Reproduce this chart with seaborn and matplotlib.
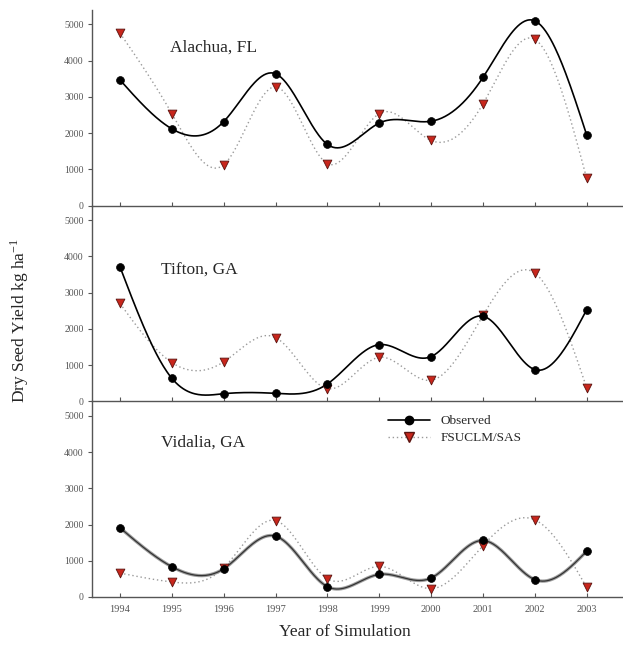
import numpy as np
import pandas as pd
import matplotlib
matplotlib.use("Agg")
import matplotlib.pyplot as plt
import seaborn as sns
from matplotlib.lines import Line2D

years = [1994, 1995, 1996, 1997, 1998, 1999, 2000, 2001, 2002, 2003]
sites = ["Alachua, FL", "Tifton, GA", "Vidalia, GA"]
alachua_obs = [3470, 2120, 2320, 3640, 1690, 2280, 2330, 3540, 5100, 1950]
alachua_sim = [4760, 2540, 1130, 3280, 1160, 2540, 1800, 2810, 4590, 750]
tifton_obs = [3710, 635, 210, 220, 480, 1565, 1235, 2350, 875, 2530]
tifton_sim = [2700, 1070, 1090, 1760, 350, 1215, 580, 2370, 3540, 370]
vidalia_obs = [1910, 835, 780, 1680, 285, 625, 525, 1560, 480, 1265]
vidalia_sim = [660, 415, 805, 2110, 505, 845, 230, 1420, 2130, 265]
yticks = [0, 1000, 2000, 3000, 4000, 5000]

obs_all = [alachua_obs, tifton_obs, vidalia_obs]
sim_all = [alachua_sim, tifton_sim, vidalia_sim]


def natural_spline(x, y, n=400):
    x = np.asarray(x, float)
    y = np.asarray(y, float)
    m = len(x)
    h = np.diff(x)
    A = np.zeros((m, m))
    b = np.zeros(m)
    A[0, 0] = 1
    A[-1, -1] = 1
    for i in range(1, m - 1):
        A[i, i - 1] = h[i - 1]
        A[i, i] = 2 * (h[i - 1] + h[i])
        A[i, i + 1] = h[i]
        b[i] = 3 * ((y[i + 1] - y[i]) / h[i] - (y[i] - y[i - 1]) / h[i - 1])
    c = np.linalg.solve(A, b)
    xs = np.linspace(x[0], x[-1], n)
    ys = np.empty_like(xs)
    for k, xv in enumerate(xs):
        i = min(np.searchsorted(x, xv, side="right") - 1, m - 2)
        dx = xv - x[i]
        bi = (y[i + 1] - y[i]) / h[i] - h[i] * (2 * c[i] + c[i + 1]) / 3
        di = (c[i + 1] - c[i]) / (3 * h[i])
        ys[k] = y[i] + bi * dx + c[i] * dx ** 2 + di * dx ** 3
    return xs, ys


sns.set_style("ticks")
plt.rcParams["font.family"] = ["Liberation Serif", "DejaVu Serif"]
plt.rcParams["mathtext.fontset"] = "stix"

fig = plt.figure(figsize=(6.23, 6.46), dpi=100)
left, right = 92 / 623, 1.0
bottom_px, top_px = 597, 10
ph = (bottom_px - top_px) / 3
axes = []
for i in range(3):
    top = top_px + i * ph
    ax = fig.add_axes([left, (646 - top - ph) / 646, right - left, ph / 646])
    ax.set_facecolor("none")
    axes.append(ax)

spine_col = "#555555"
red = "#c8261c"
for i, ax in enumerate(axes):
    obs = obs_all[i]
    sim = sim_all[i]
    xs, ys_sim = natural_spline(years, sim)
    sns.lineplot(x=xs, y=ys_sim, ax=ax, color="#9a9a9a", lw=1.0,
                 linestyle=(0, (1, 2)), zorder=2)
    xs, ys_obs = natural_spline(years, obs)
    if i == 2:
        sns.lineplot(x=xs, y=ys_obs, ax=ax, color="#a0a0a0", lw=2.4, zorder=3)
        sns.lineplot(x=xs, y=ys_obs, ax=ax, color="#333333", lw=0.9, zorder=3)
    else:
        sns.lineplot(x=xs, y=ys_obs, ax=ax, color="black", lw=1.2, zorder=3)
    sns.scatterplot(x=years, y=sim, ax=ax, marker="v", s=40, color=red,
                    edgecolor="#5a1410", linewidth=0.6, zorder=4)
    sns.scatterplot(x=years, y=obs, ax=ax, marker="o", s=32, color="black",
                    edgecolor="black", linewidth=0.5, zorder=5)

    ax.set_xlim(1993.46, 2003.7)
    ax.set_ylim(0, 5400)
    ax.set_yticks(yticks)
    ax.set_yticklabels([str(v) for v in yticks], fontsize=7, color="#555555")
    ax.set_xticks(years)
    ax.tick_params(axis="x", direction="in", length=3, width=0.8, color=spine_col)
    ax.tick_params(axis="y", direction="out", length=3, width=0.8, color=spine_col, pad=3)
    if i < 2:
        ax.set_xticklabels([])
    else:
        ax.set_xticklabels([str(y) for y in years], fontsize=7.5, color="#555555")
        ax.tick_params(axis="x", pad=6)
    for s in ["top", "right"]:
        ax.spines[s].set_visible(False)
    for s in ["left", "bottom"]:
        ax.spines[s].set_color(spine_col)
        ax.spines[s].set_linewidth(1.0)
        ax.spines[s].set_zorder(6)
    ax.set_xlabel("")
    ax.set_ylabel("")

axes[0].text(1994.97, 4350, sites[0], fontsize=12.5, va="center", ha="left")
axes[1].text(1994.8, 3620, sites[1], fontsize=12.5, va="center", ha="left")
axes[2].text(1994.8, 4260, sites[2], fontsize=12.5, va="center", ha="left")

handles = [
    Line2D([0], [0], color="black", lw=1.2, marker="o", markersize=6,
           markerfacecolor="black", markeredgecolor="black"),
    Line2D([0], [0], color="#9a9a9a", lw=1.0, linestyle=(0, (1, 2)), marker="v",
           markersize=6.5, markerfacecolor=red, markeredgecolor="#5a1410"),
]
axes[2].legend(handles, ["Observed", "FSUCLM/SAS"], loc="upper left",
               bbox_to_anchor=(0.535, 0.99), frameon=False, fontsize=9.5,
               handlelength=3.2, handletextpad=0.8, labelspacing=0.35)

fig.text(345 / 623, 1 - 632 / 646, "Year of Simulation", ha="center",
         va="center", fontsize=12.5)
fig.text(20 / 623, 1 - 320 / 646, r"Dry Seed Yield kg ha$^{\mathregular{-1}}$",
         ha="center", va="center", rotation=90, fontsize=12.5)

fig.savefig("out.png", dpi=100)
